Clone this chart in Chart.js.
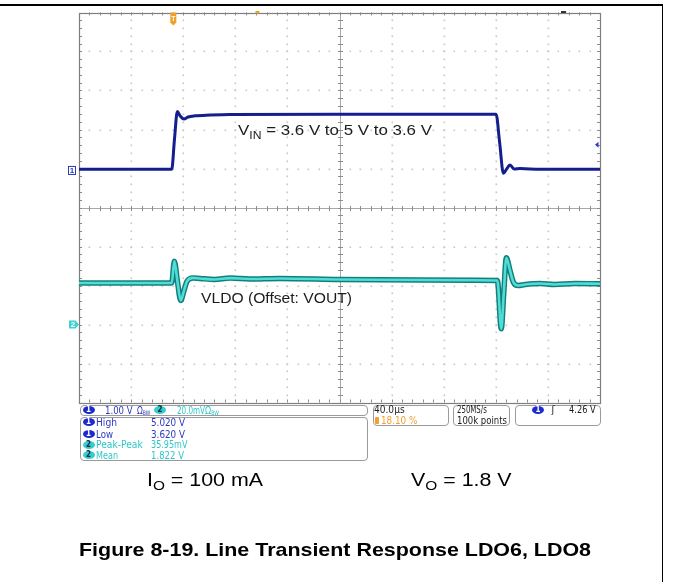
<!DOCTYPE html>
<html><head><meta charset="utf-8">
<script src="https://cdn.jsdelivr.net/npm/chart.js@4.4.1/dist/chart.umd.min.js"></script>
<style>
html,body{margin:0;padding:0;background:#fff;}
body{width:673px;height:582px;position:relative;overflow:hidden;font-family:"Liberation Sans",Arial,sans-serif;}
#c{position:absolute;left:0;top:0;}
.t{position:absolute;white-space:nowrap;line-height:1;transform-origin:0 50%;}
.r{font-family:"DejaVu Sans Condensed","DejaVu Sans","Liberation Sans",sans-serif;}
.sub{font-size:0.72em;position:relative;top:0.33em;}
.bw{font-size:0.6em;position:relative;top:0.15em;}
.box{position:absolute;border:1px solid #9a9a9a;border-radius:4px;box-sizing:border-box;}
.ell{position:absolute;border-radius:50%;font:bold 8px "DejaVu Sans Condensed","Liberation Sans",Arial,sans-serif;text-align:center;}
.rule{position:absolute;background:#000;}
</style></head>
<body>
<canvas id="c" width="673" height="582"></canvas>
<div class="rule" style="left:0;top:4px;width:663px;height:1.6px"></div>
<div class="rule" style="left:661.5px;top:4px;width:1.6px;height:578px"></div>
<div id="ov"></div>
<script>
// ---------- data ----------
const US_PER_DIV = 40;            // horizontal scale, µs/div
const X_DIVS = 10, Y_DIVS = 10;
const TRIGGER_POS_PCT = 18.10;    // trigger position (% of record)
const TRIGGER_LEVEL_V = 4.26;

const CH1_V_PER_DIV = 1.00, CH1_OFFSET_V = 3.6, CH1_POS_DIV = 0.95;
const CH2_MV_PER_DIV = 20.0, CH2_POS_DIV = -3;

// Channel 1: VIN (V) vs time from left edge of screen (µs)
const ch1TimeUs = [0, 40, 71.2, 73.3, 75.5, 77.6, 80.6, 83.7, 89.0, 100.6, 116, 200, 320.2, 323.0, 325.8, 328.0, 330.9, 334.0, 338.6, 354, 400];
const ch1Volts  = [3.63, 3.63, 3.63, 4.40, 5.11, 5.00, 4.92, 4.97, 5.00, 5.02, 5.035, 5.04, 5.04, 4.30, 3.53, 3.62, 3.74, 3.64, 3.65, 3.63, 3.63];

// Channel 2: VLDO deviation from VOUT offset (mV)
const ch2TimeUs = [0, 40, 71.2, 73.2, 75.6, 78.1, 80.6, 82.9, 87.5, 93, 104, 116, 131, 154, 200, 262, 321.2, 324.2, 326.1, 328.1, 330.9, 333.5, 337.1, 342.5, 354, 365, 381, 400];
const ch2Mv     = [21.3, 21.3, 21.3, 32.5, 22.0, 12.3, 17.4, 22.1, 23.9, 23.6, 23.1, 23.8, 23.3, 23.6, 23.1, 22.8, 22.6, -2.2, 16.0, 34.2, 27.7, 21.7, 20.0, 20.5, 21.0, 20.5, 21.0, 20.9];

// ---------- build series in screen divisions ----------
const ch1Pts = ch1TimeUs.map((t,i)=>({x:t, y:(ch1Volts[i]-CH1_OFFSET_V)/CH1_V_PER_DIV + CH1_POS_DIV}));
const ch2Pts = ch2TimeUs.map((t,i)=>({x:t, y:ch2Mv[i]/CH2_MV_PER_DIV + CH2_POS_DIV}));
const X_MAX = US_PER_DIV*X_DIVS;

const scopeGrid = {
  id:'scopeGrid',
  beforeDatasetsDraw(chart){
    const {ctx, chartArea:a, scales:{x,y}} = chart;
    const snap = v => Math.round(v)+0.5;
    ctx.save();
    ctx.fillStyle = '#c6c6c6';
    for (let i=1;i<X_DIVS;i++){
      if (i===X_DIVS/2) continue;
      const px = Math.round(x.getPixelForValue(i*US_PER_DIV));
      for (let j=1;j<Y_DIVS*5;j++){
        const py = y.getPixelForValue(-Y_DIVS/2 + j/5);
        ctx.fillRect(px-0.5, Math.round(py)-0.5, 1.6, 1.6);
      }
    }
    for (let j=1;j<Y_DIVS;j++){
      if (j===Y_DIVS/2) continue;
      const py = Math.round(y.getPixelForValue(-Y_DIVS/2 + j));
      for (let i=1;i<X_DIVS*5;i++){
        const px = x.getPixelForValue(i*US_PER_DIV/5);
        ctx.fillRect(Math.round(px)-0.5, py-0.5, 1.6, 1.6);
      }
    }
    const cx = snap(x.getPixelForValue(X_MAX/2)), cy = snap(y.getPixelForValue(0));
    ctx.strokeStyle = '#a9a9a9'; ctx.lineWidth = 1;
    ctx.beginPath();
    ctx.moveTo(a.left, cy); ctx.lineTo(a.right, cy);
    ctx.moveTo(cx, a.top); ctx.lineTo(cx, a.bottom);
    ctx.stroke();
    ctx.strokeStyle = '#8c8c8c';
    ctx.beginPath();
    for (let i=1;i<X_DIVS*5;i++){
      const px = snap(x.getPixelForValue(i*US_PER_DIV/5));
      ctx.moveTo(px, cy-2.5); ctx.lineTo(px, cy+2.5);
      ctx.moveTo(px, a.top); ctx.lineTo(px, a.top+3);
      ctx.moveTo(px, a.bottom); ctx.lineTo(px, a.bottom-3);
    }
    for (let j=1;j<Y_DIVS*5;j++){
      const py = snap(y.getPixelForValue(-Y_DIVS/2 + j/5));
      ctx.moveTo(cx-2.5, py); ctx.lineTo(cx+2.5, py);
      ctx.moveTo(a.left, py); ctx.lineTo(a.left+3, py);
      ctx.moveTo(a.right, py); ctx.lineTo(a.right-3, py);
    }
    ctx.stroke();
    ctx.strokeStyle = '#7e7e7e'; ctx.lineWidth = 1.2;
    ctx.strokeRect(Math.round(a.left)+0.5, Math.round(a.top)+0.5, Math.round(a.width), Math.round(a.height));
    ctx.restore();
  }
};

const scopeMarkers = {
  id:'scopeMarkers',
  afterDatasetsDraw(chart){
    const {ctx, chartArea:a, scales:{x,y}} = chart;
    ctx.save();
    const y1 = y.getPixelForValue(CH1_POS_DIV);
    ctx.fillStyle = '#fff'; ctx.strokeStyle = '#2a3ab8'; ctx.lineWidth = 1;
    ctx.fillRect(68.5, y1-4, 7, 8); ctx.strokeRect(68.5, y1-4, 7, 8);
    ctx.fillStyle = '#2a3ab8'; ctx.font = 'bold 8px "Liberation Sans", Arial'; ctx.textAlign='center'; ctx.textBaseline='middle';
    ctx.fillText('1', 72, y1+0.5);
    const y2 = y.getPixelForValue(CH2_POS_DIV);
    ctx.fillStyle = '#3ed2d2';
    ctx.beginPath(); ctx.moveTo(69, y2-4); ctx.lineTo(75.5, y2-4); ctx.lineTo(79, y2); ctx.lineTo(75.5, y2+4); ctx.lineTo(69, y2+4); ctx.closePath(); ctx.fill();
    ctx.fillStyle = '#ffffff'; ctx.fillText('2', 73, y2+0.5);
    const tx = x.getPixelForValue(X_MAX*TRIGGER_POS_PCT/100);
    ctx.fillStyle = '#f0a028';
    ctx.beginPath(); ctx.moveTo(tx-3, a.top); ctx.lineTo(tx+3, a.top); ctx.lineTo(tx+3, a.top+10); ctx.lineTo(tx, a.top+13); ctx.lineTo(tx-3, a.top+10); ctx.closePath(); ctx.fill();
    ctx.fillStyle = '#fff'; ctx.font = 'bold 7px "Liberation Sans", Arial';
    ctx.fillText('T', tx, a.top+6.5);
    ctx.fillStyle = '#f0a028';
    ctx.fillRect(x.getPixelForValue(137)-2, a.top-1.5, 4, 2.5);
    ctx.fillStyle = '#333';
    ctx.fillRect(x.getPixelForValue(372)-2.5, a.top-1.5, 5, 2);
    const ty = y.getPixelForValue((TRIGGER_LEVEL_V-CH1_OFFSET_V)/CH1_V_PER_DIV + CH1_POS_DIV);
    ctx.fillStyle = '#2a3ad0';
    ctx.beginPath(); ctx.moveTo(a.right-5, ty); ctx.lineTo(a.right-1.5, ty-3); ctx.lineTo(a.right-1.5, ty+3); ctx.closePath(); ctx.fill();
    ctx.restore();
  }
};

new Chart(document.getElementById('c'), {
  type:'line',
  data:{datasets:[
    {label:'VLDO edge', data:ch2Pts, borderColor:'#12807a', borderWidth:5.5, order:3},
    {label:'VLDO', data:ch2Pts, borderColor:'#52dcd8', borderWidth:2.6, order:2},
    {label:'VIN', data:ch1Pts, borderColor:'#141e8c', borderWidth:3, order:1}
  ]},
  options:{
    responsive:false, animation:false, devicePixelRatio:1,
    layout:{padding:{left:79, top:12.5, right:73, bottom:179.5}},
    plugins:{legend:{display:false}, tooltip:{enabled:false}},
    scales:{
      x:{type:'linear', min:0, max:X_MAX, display:false},
      y:{type:'linear', min:-Y_DIVS/2, max:Y_DIVS/2, display:false}
    },
    elements:{point:{radius:0}, line:{cubicInterpolationMode:'monotone', borderJoinStyle:'round', borderCapStyle:'round'}}
  },
  plugins:[scopeGrid, scopeMarkers]
});

// ---------- text & readout overlays ----------
const BLUE='#2c38c4', CYAN='#2ec6c6', ORANGE='#f0a030', INK='#1c1c1c';
const ov = document.getElementById('ov');
function box(l,t,r,b){const d=document.createElement('div');d.className='box';Object.assign(d.style,{left:l+'px',top:t+'px',width:(r-l)+'px',height:(b-t)+'px'});ov.appendChild(d);}
function ell(l,cy,txt,bg,fg){const d=document.createElement('div');d.className='ell';d.textContent=txt;Object.assign(d.style,{left:l+'px',top:(cy-4)+'px',width:'12px',height:'8px',lineHeight:'8px',background:bg,color:fg});ov.appendChild(d);}
function txt(h,x,cy,w,fs,c,bold,cls){const d=document.createElement('div');d.className='t'+(cls?' '+cls:'');d.innerHTML=h;Object.assign(d.style,{left:x+'px',top:(cy-fs/2)+'px',fontSize:fs+'px',color:c||INK,fontWeight:bold?'bold':'normal'});ov.appendChild(d);const nw=d.getBoundingClientRect().width;if(w&&nw>0)d.style.transform='scaleX('+(w/nw)+')';}
function rd(h,x,cy,w,c){txt(h,x,cy,w,10.5,c,false,'r');}

box(79.5,404.5,367.5,416); box(79.5,417,367.5,460.5);
box(372.5,404.5,448.5,426); box(453,404.5,509.5,426); box(514.5,404.5,600.5,426);

ell(82.5,410,'1','#1c2ad0','#fff'); ell(154,410,'2','#34cccc','#0c2a3a');
rd('1.00 V',105.4,410,27.6,BLUE);
rd('Ω<span class="bw">BW</span>',136.8,410,13.2,BLUE);
rd('20.0mV',177,410,28,CYAN);
rd('Ω<span class="bw">BW</span>',205,410,14,CYAN);

const measLabels=['High','Low','Peak-Peak','Mean'];
const measValues=['5.020 V','3.620 V','35.95mV','1.822 V'];
const measCh=['1','1','2','2'];
const rowsY=[422.3,434,444.7,455];
const labW=[21,17,46.8,22], valW=[34,34,36.5,33];
measLabels.forEach((l,i)=>{
  const isC = measCh[i]==='2';
  ell(82.5,rowsY[i],measCh[i],isC?'#34cccc':'#1c2ad0',isC?'#0c2a3a':'#fff');
  rd(l,96,rowsY[i],labW[i],isC?CYAN:BLUE);
  rd(measValues[i],151,rowsY[i],valW[i],isC?CYAN:BLUE);
});

rd('40.0µs',374,409.5,30.6,INK);
(function(){const d=document.createElement('div');Object.assign(d.style,{position:'absolute',left:'374.5px',top:'416.5px',width:'4px',height:'7px',background:ORANGE,borderRadius:'1px'});ov.appendChild(d);})();
rd('18.10 %',380.7,420.5,36.3,ORANGE);
rd('250MS/s',457,409.5,29.8,INK);
rd('100k points',457,420.5,50,INK);
ell(532,409.5,'1','#1c2ad0','#fff');
rd('ʃ',551.5,409.5,0,INK);
rd('4.26 V',569,409.5,26.7,INK);

txt('V<span class="sub">IN</span> = 3.6 V to 5 V to 3.6 V',237.5,130,194,15.5,INK);
txt('VLDO (Offset: VOUT)',201,297.8,151,15.5,INK);
txt('I<span class="sub">O</span> = 100 mA',147,480.3,116,17.5,'#000');
txt('V<span class="sub">O</span> = 1.8 V',411,480.3,100.6,17.5,'#000');
txt('Figure 8-19. Line Transient Response LDO6, LDO8',79,549.7,512,19,'#000',true);
</script>
</body></html>
